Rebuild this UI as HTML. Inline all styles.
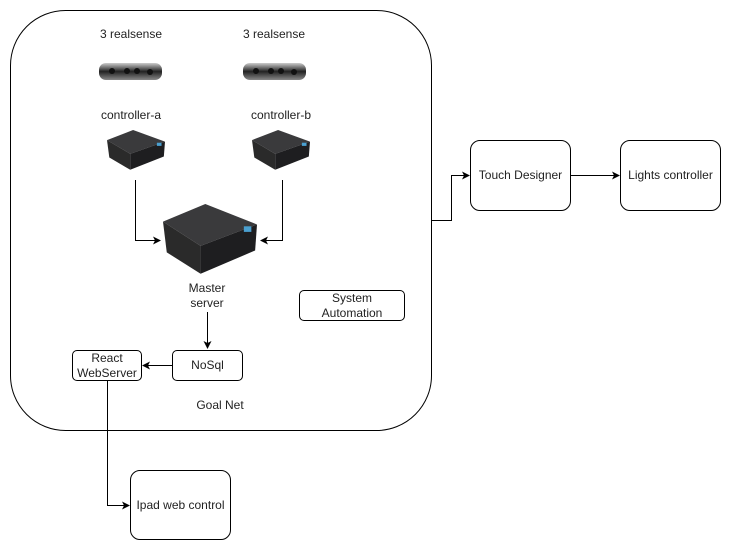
<!DOCTYPE html>
<html><head><meta charset="utf-8"><style>
html,body{margin:0;padding:0;background:#fff;}
body{width:731px;height:551px;position:relative;overflow:hidden;font-family:"Liberation Sans",Arial,sans-serif;}
.t{position:absolute;font-size:12px;color:#222;text-align:center;white-space:nowrap;line-height:15px;}
.b{position:absolute;border:1px solid #000;border-radius:5px;background:#fff;box-sizing:border-box;display:flex;align-items:center;justify-content:center;text-align:center;font-size:12px;line-height:15px;color:#222;}
</style></head><body>
<svg width="731" height="551" style="position:absolute;left:0;top:0">
<defs>
<marker id="a" markerWidth="8" markerHeight="8" refX="7" refY="4" orient="auto" markerUnits="userSpaceOnUse"><path d="M0,0 L8,4 L0,8 L2,4 z" fill="#000"/></marker>
<linearGradient id="cam" x1="0" y1="0" x2="0" y2="1"><stop offset="0" stop-color="#ccc"/><stop offset="0.5" stop-color="#222"/><stop offset="1" stop-color="#888"/></linearGradient>
<g id="pc">
<polygon points="0,19 45,0 100,22 40,45" fill="#3a3a3c"/>
<polygon points="0,19 40,45 40,75 4,52" fill="#2a2a2a"/>
<polygon points="40,45 100,22 98,50 40,75" fill="#1e1e20"/>
<rect x="86" y="24" width="8" height="6" fill="#4aa0d0"/>
</g>
</defs>
<rect x="10.5" y="10.5" width="421" height="420" rx="55" fill="none" stroke="#000" stroke-width="1"/>
<!-- cameras -->
<rect x="99" y="63" width="63" height="17" rx="7" fill="url(#cam)"/>
<rect x="243" y="63" width="63" height="17" rx="7" fill="url(#cam)"/>
<g fill="#111"><circle cx="112" cy="71" r="3"/><circle cx="127" cy="71" r="3"/><circle cx="137" cy="71" r="3"/><circle cx="150" cy="72" r="3"/>
<circle cx="256" cy="71" r="3"/><circle cx="271" cy="71" r="3"/><circle cx="281" cy="71" r="3"/><circle cx="294" cy="72" r="3"/></g>
<use href="#pc" transform="translate(107,130) scale(0.58,0.53)"/>
<use href="#pc" transform="translate(252,130) scale(0.58,0.53)"/>
<use href="#pc" transform="translate(163,204) scale(0.94,0.93)"/>
<g fill="none" stroke="#000" stroke-width="1">
<path d="M135.5,180 V240.5 H160" marker-end="url(#a)"/>
<path d="M282.5,180 V240.5 H261" marker-end="url(#a)"/>
<path d="M207.5,312 V348" marker-end="url(#a)"/>
<path d="M172,365.5 H143" marker-end="url(#a)"/>
<path d="M107.5,380 V505.5 H129" marker-end="url(#a)"/>
<path d="M432,220.5 H451.5 V175.5 H469" marker-end="url(#a)"/>
<path d="M570,175.5 H619" marker-end="url(#a)"/>
</g>
</svg>
<div class="t" style="left:81px;top:27px;width:100px">3 realsense</div>
<div class="t" style="left:224px;top:27px;width:100px">3 realsense</div>
<div class="t" style="left:81px;top:108px;width:100px">controller-a</div>
<div class="t" style="left:231px;top:108px;width:100px">controller-b</div>
<div class="t" style="left:157px;top:281px;width:100px">Master<br>server</div>
<div class="t" style="left:170px;top:398px;width:100px">Goal Net</div>
<div class="b" style="left:172px;top:350px;width:71px;height:31px">NoSql</div>
<div class="b" style="left:72px;top:350px;width:70px;height:31px">React<br>WebServer</div>
<div class="b" style="left:299px;top:290px;width:106px;height:31px">System<br>Automation</div>
<div class="b" style="left:130px;top:470px;width:101px;height:70px;border-radius:10px">Ipad web control</div>
<div class="b" style="left:470px;top:140px;width:101px;height:71px;border-radius:10px">Touch Designer</div>
<div class="b" style="left:620px;top:140px;width:101px;height:71px;border-radius:10px">Lights controller</div>
</body></html>
